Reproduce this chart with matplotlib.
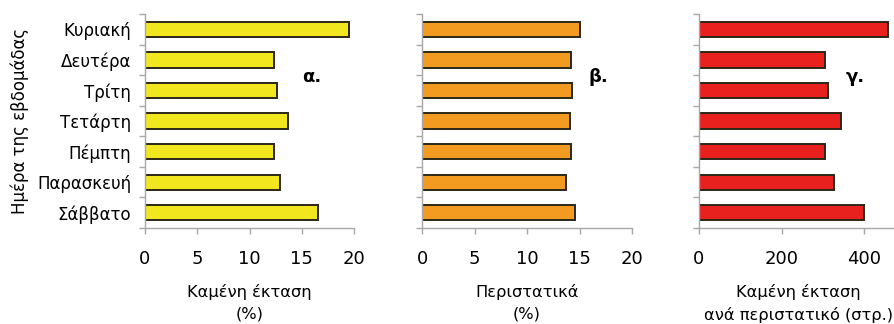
import matplotlib
matplotlib.use("Agg")
import matplotlib.pyplot as plt
import numpy as np

plt.rcParams['font.family'] = ['DejaVu Sans']

days = ["Κυριακή", "Δευτέρα", "Τρίτη", "Τετάρτη", "Πέμπτη", "Παρασκευή", "Σάββατο"]
burned_pct = [19.5, 12.3, 12.65, 13.7, 12.3, 12.9, 16.6]
incidents_pct = [15.0, 14.2, 14.3, 14.05, 14.2, 13.75, 14.6]
burned_per_incident = [459, 306, 313, 344, 306, 327, 401]

W, H = 894, 324
fig = plt.figure(figsize=(W / 100, H / 100), dpi=100)

panels = [
    dict(values=burned_pct, color="#F2E61E", left=145, width=209, xlim=(0, 20),
         xticks=[0, 5, 10, 15, 20], xlabel="Καμένη έκταση\n(%)", tag="α.", tagx=0.75),
    dict(values=incidents_pct, color="#F39A20", left=422, width=210, xlim=(0, 20),
         xticks=[0, 5, 10, 15, 20], xlabel="Περιστατικά\n(%)", tag="β.", tagx=0.795),
    dict(values=burned_per_incident, color="#E8201E", left=699, width=198, xlim=(0, 480),
         xticks=[0, 200, 400], xlabel="Καμένη έκταση\nανά περιστατικό (στρ.)", tag="γ.", tagx=0.74),
]

top_px, bottom_px = 14, 228
axis_grey = "#A8A8A8"
n = len(days)
ypos = np.arange(n)[::-1]

for i, p in enumerate(panels):
    ax = fig.add_axes([p["left"] / W, (H - bottom_px) / H, p["width"] / W,
                       (bottom_px - top_px) / H])
    ax.barh(ypos, p["values"], height=0.5, color=p["color"],
            edgecolor="#2B2718", linewidth=1.4)
    ax.set_xlim(*p["xlim"])
    ax.set_ylim(-0.5, n - 0.5)
    ax.set_xticks(p["xticks"])
    ax.set_yticks(np.arange(n + 1) - 0.5)
    ax.set_yticklabels([])
    ax.set_yticks(ypos, minor=True)
    if i == 0:
        ax.set_yticklabels(days, minor=True, fontsize=12)
        ax.set_ylabel("Ημέρα της εβδομάδας", fontsize=12, labelpad=6)
    else:
        ax.set_yticklabels([], minor=True)
    for side in ("top", "right"):
        ax.spines[side].set_visible(False)
    for side in ("left", "bottom"):
        ax.spines[side].set_color(axis_grey)
        ax.spines[side].set_linewidth(1.0)
    ax.tick_params(axis="y", which="major", length=4, color=axis_grey, width=1)
    ax.tick_params(axis="y", which="minor", length=0, pad=10)
    ax.tick_params(axis="x", length=4, color=axis_grey, width=1, pad=12, labelsize=13)
    ax.set_xlabel(p["xlabel"], fontsize=11.7, labelpad=11, linespacing=1.55)
    ax.text(p["tagx"], 0.705, p["tag"], transform=ax.transAxes, fontsize=13,
            fontweight="bold", ha="left", va="center")

fig.savefig("out.png", dpi=100)
